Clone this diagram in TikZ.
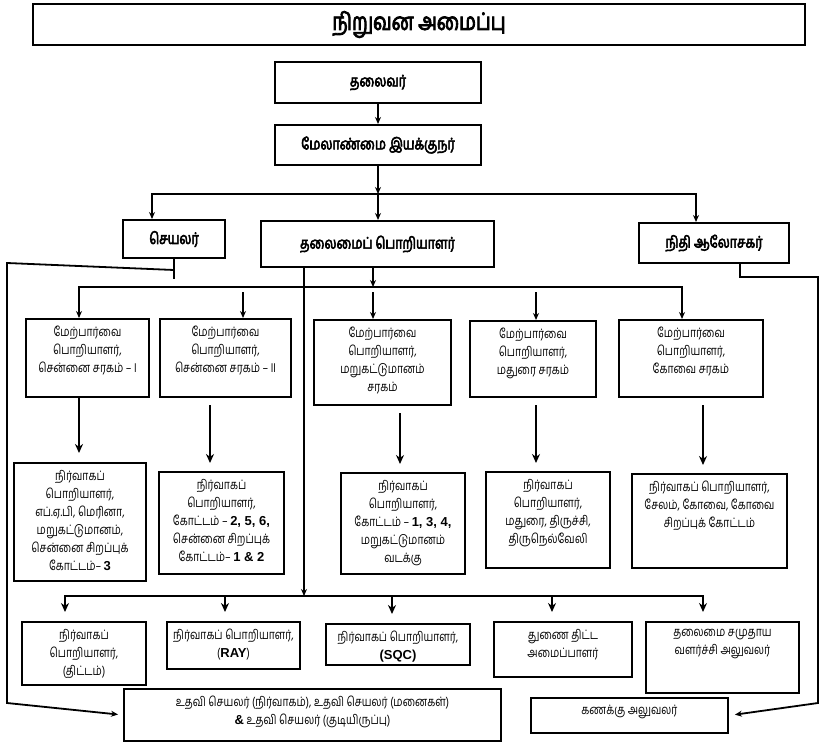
\documentclass[tikz,border=0pt]{standalone}
\usepackage{fontspec}
\newfontfamily\tamil[Script=Tamil,FakeStretch=0.8]{Hind Madurai}
\newfontfamily\tamilb[Script=Tamil,FakeStretch=0.78,FakeBold=3.5]{Hind Madurai}
\newfontfamily\latin{Liberation Sans}
\usetikzlibrary{arrows.meta}
\newcommand{\cellbox}[3]{\parbox[t][#2pt][t]{#1pt}{\centering\vspace*{7pt}#3}}
\newcommand{\digs}[1]{{\latin\bfseries #1}}

\begin{document}
\begin{tikzpicture}[x=1pt,y=-1pt,
    box/.style={draw,line width=2pt,inner sep=0pt,anchor=north west},
    head/.style={box,font=\tamilb\fontsize{16}{18}\selectfont},
    cell/.style={box,font=\tamil\fontsize{13}{18}\selectfont},
    ln/.style={line width=1.8pt},
    arr/.style={ln,-{Stealth[length=7pt,width=6pt]}},
    bigarr/.style={line width=2.2pt,-{Stealth[length=9pt,width=8pt]}}]
\useasboundingbox (0,0) rectangle (821,743);

\node[box,minimum width=772pt,minimum height=41pt,font=\tamilb\fontsize{24}{26}\selectfont] (title) at (32,3) {நிறுவன அமைப்பு};
\node[head,minimum width=206pt,minimum height=41pt] (chair) at (274,61) {தலைவர்};
\node[head,minimum width=206pt,minimum height=40pt] (md) at (274,124) {மேலாண்மை இயக்குநர்};
\node[head,minimum width=102pt,minimum height=38pt] (sec) at (122,219) {செயலர்};
\node[head,minimum width=233pt,minimum height=46pt] (ce) at (260,220) {தலைமைப் பொறியாளர்};
\node[head,minimum width=150pt,minimum height=40pt] (fa) at (638,222) {நிதி ஆலோசகர்};

\node[cell] (se1) at (25,318) {\cellbox{123}{78}{மேற்பார்வை\\பொறியாளர்,\\சென்னை சரகம் – I}};
\node[cell] (se2) at (159,318) {\cellbox{131}{78}{மேற்பார்வை\\பொறியாளர்,\\சென்னை சரகம் – II}};
\node[cell] (se3) at (313,319) {\cellbox{137}{85}{மேற்பார்வை\\பொறியாளர்,\\மறுகட்டுமானம்\\சரகம்}};
\node[cell] (se4) at (469,320) {\cellbox{126}{76}{மேற்பார்வை\\பொறியாளர்,\\மதுரை சரகம்}};
\node[cell] (se5) at (618,319) {\cellbox{144}{77}{மேற்பார்வை\\பொறியாளர்,\\கோவை சரகம்}};

\node[cell] (ee1) at (13,462) {\cellbox{132}{118}{நிர்வாகப்\\பொறியாளர்,\\எப்.ஏ.பி, மெரினா,\\மறுகட்டுமானம்,\\சென்னை சிறப்புக்\\கோட்டம்– \digs{3}}};
\node[cell] (ee2) at (158,471) {\cellbox{125}{102}{நிர்வாகப்\\பொறியாளர்,\\கோட்டம் – \digs{2, 5, 6,}\\சென்னை சிறப்புக்\\கோட்டம்– \digs{1 \& 2}}};
\node[cell] (ee3) at (340,472) {\cellbox{124}{101}{நிர்வாகப்\\பொறியாளர்,\\கோட்டம் – \digs{1, 3, 4,}\\மறுகட்டுமானம்\\வடக்கு}};
\node[cell] (ee4) at (485,471) {\cellbox{124}{96}{நிர்வாகப்\\பொறியாளர்,\\மதுரை, திருச்சி,\\திருநெல்வேலி}};
\node[cell] (ee5) at (631,473) {\cellbox{155}{94}{நிர்வாகப் பொறியாளர்,\\சேலம், கோவை, கோவை\\சிறப்புக் கோட்டம்}};

\node[cell] (pln) at (21,621) {\cellbox{124}{63}{நிர்வாகப்\\பொறியாளர்,\\(திட்டம்)}};
\node[cell] (ray) at (166,621) {\cellbox{133}{47}{நிர்வாகப் பொறியாளர்,\\(\digs{RAY})}};
\node[cell] (sqc) at (325,623) {\cellbox{144}{41}{நிர்வாகப் பொறியாளர்,\\\digs{(SQC)}}};
\node[cell] (dtp) at (493,621) {\cellbox{138}{55}{துணை திட்ட\\அமைப்பாளர்}};
\node[cell] (cdo) at (645,621) {\cellbox{153}{71}{தலைமை சமுதாய\\வளர்ச்சி அலுவலர்}};
\node[cell] (asec) at (123,688) {\cellbox{377}{52}{உதவி செயலர் (நிர்வாகம்), உதவி செயலர் (மனைகள்)\\\digs{\&} உதவி செயலர் (குடியிருப்பு)}};
\node[cell] (ao) at (530,697) {\cellbox{197}{35}{கணக்கு அலுவலர்}};

\coordinate (j1) at (md.south |- 0,194);
\coordinate (j2) at (373,287);
\coordinate (j3) at (304,596);

\draw[arr] (chair) -- (md);
\draw[arr] (md.south) -- (j1);
\draw[arr] (j1) -| (152,0 |- sec.north);
\draw[arr] (j1) -- (j1 |- ce.north);
\draw[arr] (j1) -| (696,0 |- fa.north);

\draw[arr] (373,0 |- ce.south) -- (j2);
\draw[arr] (j2) -| (79,0 |- se1.north);
\draw[arr] (j2) -| (682,0 |- se5.north);
\foreach \x/\n in {243/se2,373/se3,536/se4}
  \draw[arr] (\x,292) -- (\x,0 |- \n.north);

\draw[bigarr,shorten >=9pt] (79,0 |- se1.south) -- (79,0 |- ee1.north);
\foreach \x/\a/\b in {210/se2/ee2,400/se3/ee3,536/se4/ee4,703/se5/ee5}
  \draw[bigarr,shorten <=7pt,shorten >=8pt] (\x,0 |- \a.south) -- (\x,0 |- \b.north);

\draw[arr] (304,0 |- ce.south) -- (j3);
\draw[bigarr,shorten >=9pt] (j3) -| (65,0 |- pln.north);
\draw[bigarr,shorten >=9pt] (j3) -| (703,0 |- cdo.north);
\foreach \x/\n in {225/ray,392/sqc,552/dtp}
  \draw[bigarr,shorten >=9pt] (\x,596) -- (\x,0 |- \n.north);

\draw[ln] (sec.south) -- ++(0,20);
\draw[arr,shorten >=5pt] ([yshift=-11pt]sec.south) -- (7,263) -- (7,703) -- (asec.west);
\draw[arr,shorten >=6pt] (740,0 |- fa.south) -- (740,277) -- (818,277) -- (818,703) -- (ao.east);
\end{tikzpicture}
\end{document}
